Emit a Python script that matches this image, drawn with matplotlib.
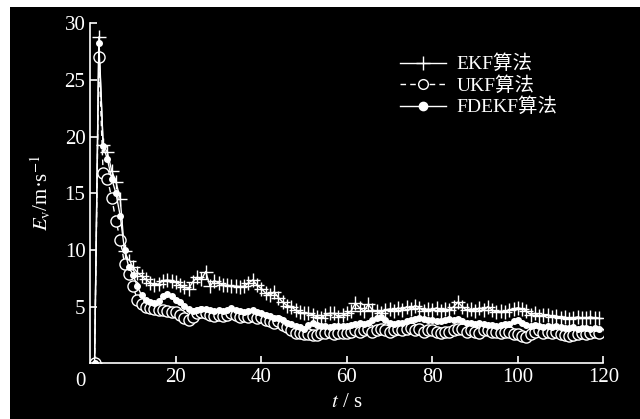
import matplotlib
matplotlib.use("Agg")
import matplotlib.pyplot as plt
from matplotlib.lines import Line2D
from matplotlib.patches import Rectangle

plt.rcParams['font.family'] = ['Liberation Serif', 'Noto Sans CJK SC', 'DejaVu Sans']
plt.rcParams['mathtext.fontset'] = 'stix'

t = list(range(1, 120))

ekf = [0, 28.8, 19.3, 18.6, 17.0, 16.0, 14.5, 9.9, 9.0, 8.5,
       8.0, 7.7, 7.4, 7.1, 6.9, 7.0, 7.3, 7.35, 7.3, 7.2,
       6.9, 6.7, 6.6, 7.2, 7.6, 7.4, 8.1, 6.8, 7.3, 7.1,
       6.9, 6.9, 6.8, 6.8, 6.75, 6.8, 7.1, 7.35, 6.9, 6.6,
       6.2, 6.0, 6.3, 5.8, 5.4, 5.1, 5.0, 4.7, 4.5, 4.4,
       4.4, 4.3, 4.1, 4.0, 4.3, 4.4, 4.4, 4.1, 4.25, 4.4,
       4.6, 5.3, 4.9, 4.6, 5.2, 4.7, 4.6, 4.4, 4.7, 4.8,
       4.6, 4.9, 4.7, 5.0, 4.8, 5.1, 4.9, 4.6, 4.8, 4.7,
       4.9, 4.6, 4.8, 4.7, 5.0, 5.4, 5.0, 4.7, 4.8, 4.6,
       4.9, 4.7, 5.0, 4.7, 4.5, 4.6, 4.5, 4.7, 4.8, 4.9,
       4.8, 4.6, 4.3, 4.4, 4.2, 4.3, 4.3, 4.1, 4.2, 4.0,
       4.1, 3.9, 4.0, 4.1, 4.0, 4.0, 4.1, 4.0, 4.0]

ukf = [0, 27.0, 16.8, 16.3, 14.6, 12.6, 10.9, 8.8, 7.9, 6.8,
       5.6, 5.2, 5.0, 4.9, 4.8, 4.7, 4.7, 4.6, 4.5, 4.5,
       4.3, 4.0, 3.8, 4.1, 4.4, 4.5, 4.4, 4.3, 4.2, 4.3,
       4.2, 4.3, 4.4, 4.3, 4.1, 4.2, 4.1, 4.2, 4.0, 4.1,
       3.8, 3.7, 3.6, 3.7, 3.4, 3.2, 2.9, 2.7, 2.7, 2.6,
       2.6, 2.5, 2.5, 2.7, 2.7, 2.8, 2.6, 2.7, 2.7, 2.7,
       2.8, 2.9, 2.8, 2.9, 3.0, 2.8, 2.9, 3.0, 2.9, 2.8,
       2.9, 3.0, 2.9, 3.0, 3.1, 2.9, 3.0, 2.8, 2.9, 2.9,
       2.8, 2.7, 2.8, 2.8, 2.9, 3.0, 3.0, 2.8, 2.9, 2.8,
       2.7, 2.9, 2.9, 2.8, 2.8, 2.7, 2.8, 2.8, 2.6, 2.6,
       2.4, 2.3, 2.6, 2.8, 2.9, 2.7, 2.8, 2.7, 2.8, 2.6,
       2.5, 2.4, 2.5, 2.6, 2.7, 2.6, 2.7, 2.8, 2.7]

fdekf = [0, 28.3, 19.2, 18.0, 16.3, 15.0, 13.0, 10.0, 8.5, 7.8,
         6.8, 6.0, 5.6, 5.4, 5.3, 5.5, 5.9, 6.1, 5.9, 5.6,
         5.4, 5.1, 4.8, 4.6, 4.7, 4.8, 4.8, 4.7, 4.6, 4.7,
         4.6, 4.7, 4.9, 4.7, 4.6, 4.5, 4.6, 4.7, 4.5, 4.4,
         4.3, 4.2, 4.0, 4.0, 3.8, 3.6, 3.5, 3.3, 3.2, 3.0,
         3.4, 3.6, 3.4, 3.3, 3.3, 3.2, 3.3, 3.3, 3.3, 3.3,
         3.4, 3.5, 3.6, 3.5, 3.6, 3.8, 4.0, 4.1, 3.8, 3.6,
         3.5, 3.6, 3.6, 3.7, 3.8, 3.9, 4.0, 3.9, 3.8, 3.8,
         3.7, 3.7, 3.8, 3.9, 3.8, 3.9, 3.7, 3.6, 3.6, 3.5,
         3.6, 3.5, 3.4, 3.4, 3.3, 3.4, 3.5, 3.5, 3.7, 3.8,
         3.6, 3.4, 3.3, 3.4, 3.3, 3.2, 3.3, 3.2, 3.3, 3.2,
         3.1, 3.1, 3.2, 3.0, 3.1, 3.1, 3.0, 3.1, 3.0]

labels = ['EKF算法', 'UKF算法', 'FDEKF算法']
xticks = [20, 40, 60, 80, 100, 120]
yticks = [5, 10, 15, 20, 25, 30]

W, H = 640, 419
fig = plt.figure(figsize=(W / 100, H / 100), dpi=100, facecolor='white')
fig.patches.append(Rectangle((10 / W, 0), 1, (H - 7) / H, transform=fig.transFigure,
                             facecolor='black', edgecolor='none', zorder=-10))

ax = fig.add_axes([90.3 / W, (H - 363.3) / H, 513 / W, 340 / H])
ax.set_facecolor('black')
ax.patch.set_alpha(0)

c = 'white'
dash = (0, (4, 3))
ax.plot(t, ekf, color=c, lw=1.0, marker='+', ms=10, mew=1.0)
ax.plot(t, ukf, color=c, lw=1.0, ls=dash, marker='o', ms=8, mfc='black', mec=c, mew=1.0)
ax.plot(t, fdekf, color=c, lw=1.0, marker='o', ms=4, mfc=c, mec=c)

ax.set_xlim(0, 120)
ax.set_ylim(0, 30)
for s in ['top', 'right']:
    ax.spines[s].set_visible(False)
for s in ['left', 'bottom']:
    ax.spines[s].set_color(c)
    ax.spines[s].set_linewidth(1.2)
ax.set_xticks(xticks)
ax.set_yticks(yticks)
ax.tick_params(direction='in', colors=c, length=5, width=1.2, labelsize=15)
ax.text(-2.3, -1.6, '0', color=c, fontsize=15, ha='center', va='center', clip_on=False)

ax.set_xlabel(r'$t$ / s', color=c, fontsize=15, labelpad=4)
ax.set_ylabel(r'$E_{\rm v}$/m·s$^{-1}$', color=c, fontsize=15, labelpad=8)

handles = [
    Line2D([], [], color=c, lw=1.0, marker='+', ms=10, mew=1.0),
    Line2D([], [], color=c, lw=1.0, ls=dash, marker='o', ms=7, mfc='black', mec=c),
    Line2D([], [], color=c, lw=1.0, marker='o', ms=6, mfc=c, mec=c),
]
leg = ax.legend(handles, labels, loc='upper left', bbox_to_anchor=(392 / W, 1 - 47 / H),
                bbox_transform=fig.transFigure, frameon=False, fontsize=14,
                handlelength=2.4, handletextpad=0.5, labelspacing=0.15, borderaxespad=0)
for txt in leg.get_texts():
    txt.set_color(c)

fig.savefig('out.png', dpi=100, facecolor=fig.get_facecolor())
